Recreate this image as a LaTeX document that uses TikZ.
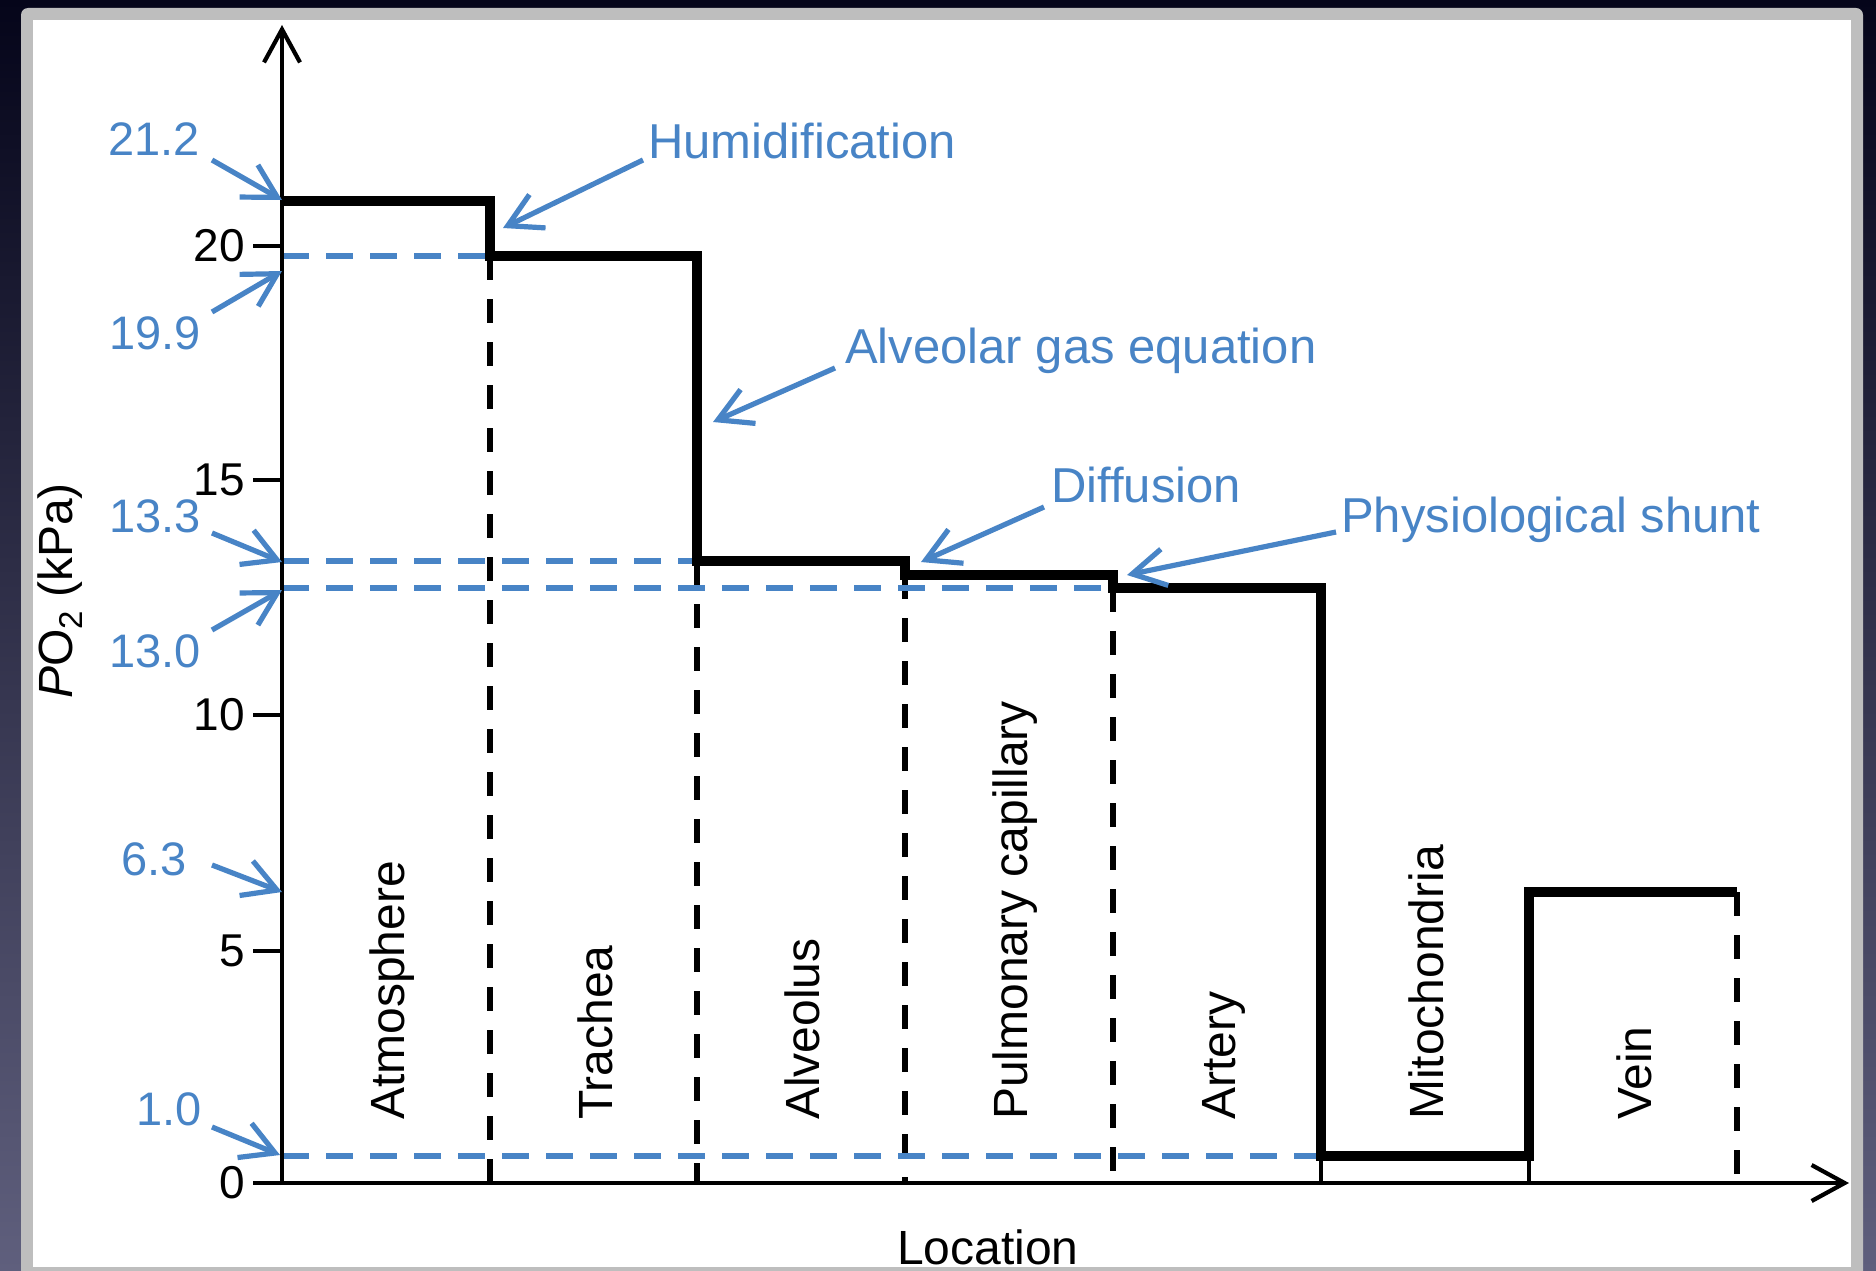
\documentclass[tikz,border=0pt]{standalone}
\usepackage{fontspec}
\setmainfont{Liberation Sans}
\usetikzlibrary{arrows.meta}
\definecolor{annblue}{RGB}{72,132,198}
\definecolor{bgtop}{RGB}{5,5,26}
\definecolor{bgbot}{RGB}{95,95,125}
\definecolor{framegray}{RGB}{190,190,190}
\begin{document}
\begin{tikzpicture}[x=1pt,y=-1pt,
  axisline/.style={line width=4.2pt,-{Straight Barb[length=33pt,width=36pt]}},
  ytickmark/.style={line width=4.2pt},
  stepline/.style={line width=10pt,line join=miter},
  thinline/.style={line width=4.2pt},
  blackdash/.style={line width=5.5pt,dash pattern=on 24pt off 19pt},
  bluedash/.style={annblue,line width=6.5pt,dash pattern=on 27pt off 17pt},
  bluearrow/.style={annblue,line width=5.2pt,-{Straight Barb[length=33pt,width=37pt]}},
  bluelabel/.style={annblue,inner sep=0pt,anchor=base west,font=\fontsize{47}{56}\selectfont},
  annlabel/.style={annblue,inner sep=0pt,anchor=base west,font=\fontsize{49}{58}\selectfont},
  ticklabel/.style={inner sep=0pt,anchor=east,font=\fontsize{46}{55}\selectfont},
  region/.style={rotate=90,inner sep=0pt,anchor=base west,font=\fontsize{48}{58}\selectfont},
  axislabel/.style={inner sep=0pt,anchor=base west,font=\fontsize{48}{58}\selectfont}]
\useasboundingbox (0,0) rectangle (1876,1271);
% background and frame
\fill[top color=bgtop,bottom color=bgbot] (0,0) rectangle (1876,1271);
\fill[framegray,rounded corners=7pt] (21,8) rectangle (1863,1300);
\fill[white] (33,20) rectangle (1851,1267);

% black dashed verticals
\draw[blackdash] (490,256) -- (490,1183);
\draw[blackdash] (697,561) -- (697,1183);
\draw[blackdash] (905,575) -- (905,1183);
\draw[blackdash] (1113,588) -- (1113,1183);
\draw[blackdash] (1737,892) -- (1737,1183);
\draw[thinline] (1321,1156) -- (1321,1183);
\draw[thinline] (1529,1156) -- (1529,1183);

% blue dashed levels
\draw[bluedash] (282,256) -- (490,256);
\draw[bluedash] (282,561) -- (697,561);
\draw[bluedash] (282,588) -- (1113,588);
\draw[bluedash] (282,1156) -- (1321,1156);

% axes
\draw[axisline] (282,1185) -- (282,25);
\draw[axisline] (280,1183) -- (1849,1183);
\foreach \yy/\lab in {1183/0,951/5,715/10,480/15,246/20}{
  \draw[ytickmark] (253,\yy) -- (282,\yy);
  \node[ticklabel] (tick\lab) at (245,\yy) {\lab};
}

% step curve
\draw[stepline] (282,201) -- (490,201) -- (490,256) -- (697,256) -- (697,561)
  -- (905,561) -- (905,575) -- (1113,575) -- (1113,588) -- (1321,588)
  -- (1321,1156) -- (1529,1156) -- (1529,892) -- (1737,892);

% axis labels
\node[axislabel,rotate=90] (ylab) at (72,699) {\textit{P}O\raisebox{-10pt}{\fontsize{33}{33}\selectfont 2} (kPa)};
\node[axislabel] (xlab) at (897,1264) {Location};

% region labels
\node[region] (atm) at (404,1120) {Atmosphere};
\node[region] (tra) at (612,1120) {Trachea};
\node[region] (alv) at (819,1120) {Alveolus};
\node[region] (pul) at (1027,1120) {Pulmonary capillary};
\node[region] (art) at (1235,1120) {Artery};
\node[region] (mit) at (1443,1120) {Mitochondria};
\node[region] (vei) at (1651,1120) {Vein};

% blue value labels
\node[bluelabel] (v212) at (108,155) {21.2};
\node[bluelabel] (v199) at (109,349) {19.9};
\node[bluelabel] (v133) at (109,532) {13.3};
\node[bluelabel] (v130) at (109,667) {13.0};
\node[bluelabel] (v63) at (121,875) {6.3};
\node[bluelabel] (v10) at (136,1125) {1.0};

% annotation labels
\node[annlabel] (hum) at (648,158) {Humidification};
\node[annlabel] (age) at (845,363) {Alveolar gas equation};
\node[annlabel] (dif) at (1051,502) {Diffusion};
\node[annlabel] (shu) at (1341,532) {Physiological shunt};

% arrow endpoints
\coordinate (a212s) at (212,160);  \coordinate (a212t) at (282,200);
\coordinate (a199s) at (212,312);  \coordinate (a199t) at (282,271);
\coordinate (a133s) at (212,533);  \coordinate (a133t) at (282,562);
\coordinate (a130s) at (212,630);  \coordinate (a130t) at (282,590);
\coordinate (a63s) at (212,865);   \coordinate (a63t) at (282,892);
\coordinate (a10s) at (212,1127);  \coordinate (a10t) at (280,1155);
\coordinate (humS) at (643,160);   \coordinate (humT) at (503,228);
\coordinate (ageS) at (835,368);   \coordinate (ageT) at (713,422);
\coordinate (difS) at (1044,507);  \coordinate (difT) at (921,562);
\coordinate (shuS) at (1336,532);  \coordinate (shuT) at (1127,575);

\draw[bluearrow] (a212s) -- (a212t);
\draw[bluearrow] (a199s) -- (a199t);
\draw[bluearrow] (a133s) -- (a133t);
\draw[bluearrow] (a130s) -- (a130t);
\draw[bluearrow] (a63s) -- (a63t);
\draw[bluearrow] (a10s) -- (a10t);
\draw[bluearrow] (humS) -- (humT);
\draw[bluearrow] (ageS) -- (ageT);
\draw[bluearrow] (difS) -- (difT);
\draw[bluearrow] (shuS) -- (shuT);
\end{tikzpicture}
\end{document}
